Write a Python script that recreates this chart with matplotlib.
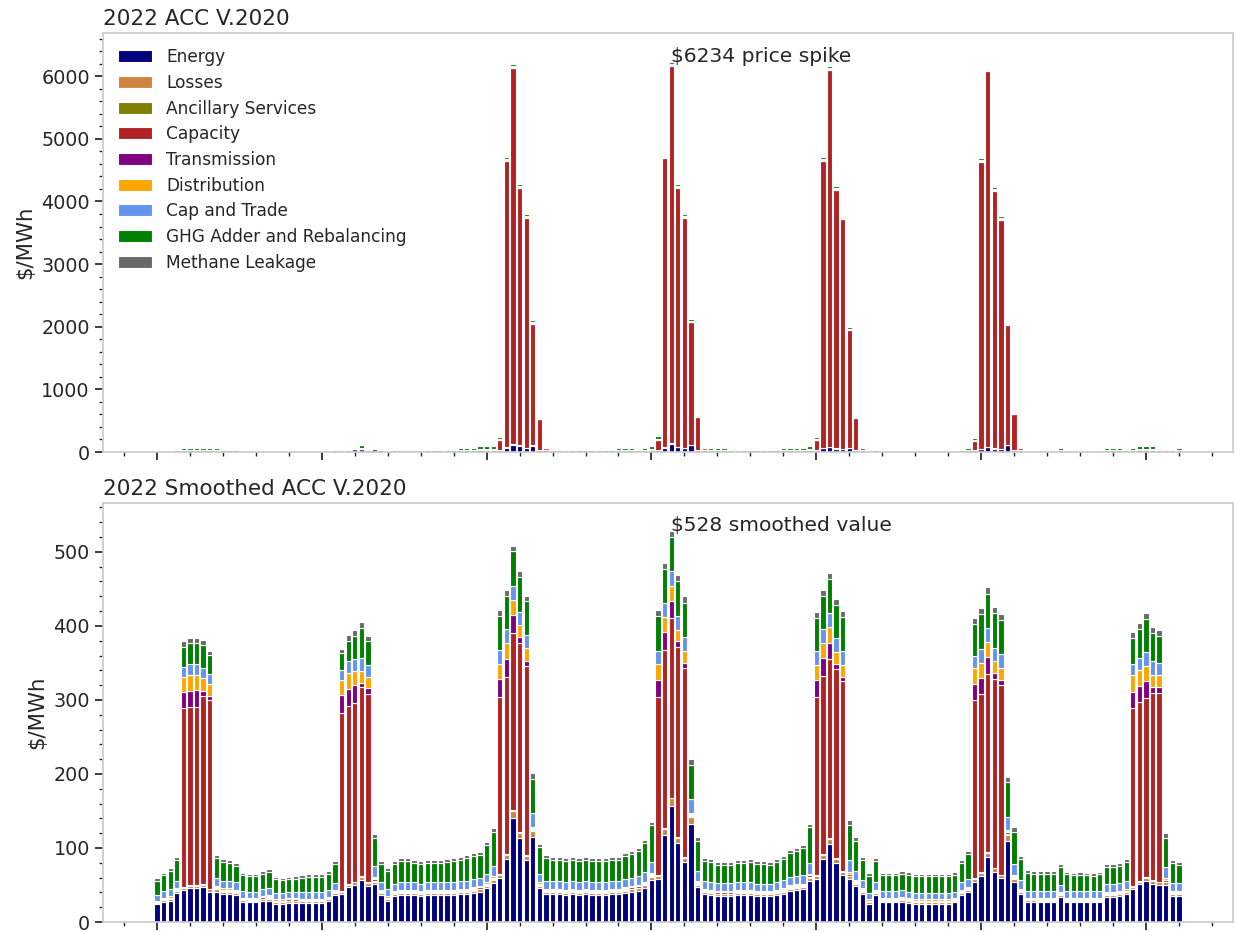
import numpy as np
import matplotlib
matplotlib.use("Agg")
import matplotlib.pyplot as plt
from matplotlib.ticker import MultipleLocator

plt.rcParams['font.family'] = ['DejaVu Sans']

# ---------------- data ----------------
series_names = ["Energy", "Losses", "Ancillary Services", "Capacity", "Transmission",
                "Distribution", "Cap and Trade", "GHG Adder and Rebalancing", "Methane Leakage"]
series_colors = ["navy", "peru", "olive", "firebrick", "purple",
                 "orange", "cornflowerblue", "green", "dimgray"]

# ---- Top panel: 2022 ACC V.2020 (raw hourly) ----
top_energy = [0, 0, 0, 28, 30, 30, 30, 30, 30, 30,
              28, 28, 28, 0, 0, 0, 0, 0, 0, 0,
              0, 0, 0, 0, 0, 0, 0, 28, 28, 28,
              50, 50, 28, 50, 28, 0, 28, 28, 28, 28,
              28, 28, 28, 28, 28, 28, 30, 30, 30, 40,
              40, 40, 35, 70, 120, 100, 65, 100, 30, 28,
              28, 28, 28, 28, 28, 28, 28, 28, 28, 28,
              30, 30, 30, 28, 30, 40, 35, 70, 130, 80,
              65, 110, 30, 25, 30, 30, 30, 28, 28, 28,
              28, 28, 28, 28, 28, 30, 30, 30, 30, 40,
              35, 60, 75, 55, 45, 60, 30, 28, 0, 28,
              0, 0, 0, 0, 0, 0, 0, 0, 0, 0,
              0, 0, 28, 30, 35, 45, 75, 55, 45, 110,
              30, 28, 0, 0, 0, 0, 0, 30, 0, 0,
              0, 0, 0, 0, 30, 30, 30, 28, 30, 40,
              40, 40, 28, 28, 28, 30]
top_losses = [0, 0, 0, 2, 2, 2, 2, 2, 2, 2,
              2, 2, 2, 0, 0, 0, 0, 0, 0, 0,
              0, 0, 0, 0, 0, 0, 0, 2, 2, 2,
              3, 3, 2, 3, 2, 0, 2, 2, 2, 2,
              2, 2, 2, 2, 2, 2, 2, 2, 2, 3,
              3, 3, 2, 5, 8, 7, 4, 7, 2, 2,
              2, 2, 2, 2, 2, 2, 2, 2, 2, 2,
              2, 2, 2, 2, 2, 3, 2, 5, 9, 6,
              4, 8, 2, 2, 2, 2, 2, 2, 2, 2,
              2, 2, 2, 2, 2, 2, 2, 2, 2, 3,
              2, 4, 5, 4, 3, 4, 2, 2, 0, 2,
              0, 0, 0, 0, 0, 0, 0, 0, 0, 0,
              0, 0, 2, 2, 2, 3, 5, 4, 3, 8,
              2, 2, 0, 0, 0, 0, 0, 2, 0, 0,
              0, 0, 0, 0, 2, 2, 2, 2, 2, 3,
              3, 3, 2, 2, 2, 2]
top_ancillary = [0, 0, 0, 1, 1, 1, 1, 1, 1, 1,
                 1, 1, 1, 0, 0, 0, 0, 0, 0, 0,
                 0, 0, 0, 0, 0, 0, 0, 1, 1, 1,
                 1, 1, 1, 1, 1, 0, 1, 1, 1, 1,
                 1, 1, 1, 1, 1, 1, 1, 1, 1, 1,
                 1, 1, 1, 1, 1, 1, 1, 1, 1, 1,
                 1, 1, 1, 1, 1, 1, 1, 1, 1, 1,
                 1, 1, 1, 1, 1, 1, 1, 1, 1, 1,
                 1, 1, 1, 1, 1, 1, 1, 1, 1, 1,
                 1, 1, 1, 1, 1, 1, 1, 1, 1, 1,
                 1, 1, 1, 1, 1, 1, 1, 1, 0, 1,
                 0, 0, 0, 0, 0, 0, 0, 0, 0, 0,
                 0, 0, 1, 1, 1, 1, 1, 1, 1, 1,
                 1, 1, 0, 0, 0, 0, 0, 1, 0, 0,
                 0, 0, 0, 0, 1, 1, 1, 1, 1, 1,
                 1, 1, 1, 1, 1, 1]
top_capacity = [0, 0, 0, 0, 0, 0, 0, 0, 0, 0,
                0, 0, 0, 0, 0, 0, 0, 0, 0, 0,
                0, 0, 0, 0, 0, 0, 0, 0, 0, 0,
                0, 0, 0, 0, 0, 0, 0, 0, 0, 0,
                0, 0, 0, 0, 0, 0, 0, 0, 0, 0,
                0, 0, 150, 4565, 6006, 4108, 3667, 1942, 490, 35,
                0, 0, 0, 0, 0, 0, 0, 0, 0, 0,
                0, 0, 0, 0, 0, 0, 160, 4613, 6016, 4129,
                3667, 1951, 530, 30, 0, 0, 0, 0, 0, 0,
                0, 0, 0, 0, 0, 0, 0, 0, 0, 0,
                150, 4576, 6017, 4124, 3667, 1885, 510, 40, 0, 0,
                0, 0, 0, 0, 0, 0, 0, 0, 0, 0,
                0, 0, 0, 0, 140, 4581, 6001, 4108, 3656, 1911,
                580, 40, 0, 0, 0, 0, 0, 0, 0, 0,
                0, 0, 0, 0, 0, 0, 0, 0, 0, 0,
                0, 0, 0, 0, 0, 0]
top_transmission = [0, 0, 0, 0, 0, 0, 0, 0, 0, 0,
                    0, 0, 0, 0, 0, 0, 0, 0, 0, 0,
                    0, 0, 0, 0, 0, 0, 0, 0, 0, 0,
                    0, 0, 0, 0, 0, 0, 0, 0, 0, 0,
                    0, 0, 0, 0, 0, 0, 0, 0, 0, 0,
                    0, 0, 0, 0, 0, 0, 0, 0, 0, 0,
                    0, 0, 0, 0, 0, 0, 0, 0, 0, 0,
                    0, 0, 0, 0, 0, 0, 0, 0, 0, 0,
                    0, 0, 0, 0, 0, 0, 0, 0, 0, 0,
                    0, 0, 0, 0, 0, 0, 0, 0, 0, 0,
                    0, 0, 0, 0, 0, 0, 0, 0, 0, 0,
                    0, 0, 0, 0, 0, 0, 0, 0, 0, 0,
                    0, 0, 0, 0, 0, 0, 0, 0, 0, 0,
                    0, 0, 0, 0, 0, 0, 0, 0, 0, 0,
                    0, 0, 0, 0, 0, 0, 0, 0, 0, 0,
                    0, 0, 0, 0, 0, 0]
top_distribution = [0, 0, 0, 0, 0, 0, 0, 0, 0, 0,
                    0, 0, 0, 0, 0, 0, 0, 0, 0, 0,
                    0, 0, 0, 0, 0, 0, 0, 0, 0, 0,
                    0, 0, 0, 0, 0, 0, 0, 0, 0, 0,
                    0, 0, 0, 0, 0, 0, 0, 0, 0, 0,
                    0, 0, 5, 15, 20, 15, 15, 10, 5, 0,
                    0, 0, 0, 0, 0, 0, 0, 0, 0, 0,
                    0, 0, 0, 0, 0, 0, 5, 15, 20, 15,
                    15, 10, 5, 0, 0, 0, 0, 0, 0, 0,
                    0, 0, 0, 0, 0, 0, 0, 0, 0, 0,
                    5, 15, 20, 15, 15, 10, 5, 0, 0, 0,
                    0, 0, 0, 0, 0, 0, 0, 0, 0, 0,
                    0, 0, 0, 0, 5, 15, 15, 15, 15, 10,
                    5, 0, 0, 0, 0, 0, 0, 0, 0, 0,
                    0, 0, 0, 0, 0, 0, 0, 0, 0, 0,
                    0, 0, 0, 0, 0, 0]
top_cap_trade = [0, 0, 0, 5, 6, 6, 6, 6, 6, 6,
                 5, 5, 5, 0, 0, 0, 0, 0, 0, 0,
                 0, 0, 0, 0, 0, 0, 0, 5, 5, 5,
                 6, 8, 5, 6, 5, 0, 5, 5, 5, 5,
                 5, 5, 5, 5, 5, 5, 6, 6, 6, 8,
                 8, 8, 8, 15, 15, 15, 14, 12, 8, 5,
                 5, 5, 5, 5, 5, 5, 5, 5, 5, 5,
                 6, 6, 6, 5, 6, 8, 8, 15, 18, 15,
                 14, 14, 8, 5, 6, 6, 6, 5, 5, 5,
                 5, 5, 5, 5, 5, 6, 6, 6, 6, 8,
                 8, 15, 15, 14, 14, 12, 8, 5, 0, 5,
                 0, 0, 0, 0, 0, 0, 0, 0, 0, 0,
                 0, 0, 5, 6, 8, 15, 14, 14, 14, 14,
                 8, 5, 0, 0, 0, 0, 0, 6, 0, 0,
                 0, 0, 0, 0, 6, 6, 6, 5, 6, 8,
                 8, 8, 5, 5, 5, 6]
top_ghg = [0, 0, 0, 12, 28, 28, 28, 28, 28, 28,
           12, 12, 12, 0, 0, 0, 0, 0, 0, 0,
           0, 0, 0, 0, 0, 0, 0, 12, 12, 12,
           28, 45, 12, 12, 12, 0, 12, 12, 12, 12,
           12, 12, 12, 12, 12, 12, 28, 28, 28, 45,
           45, 45, 45, 35, 30, 30, 27, 30, 25, 10,
           12, 12, 12, 12, 12, 12, 12, 12, 12, 12,
           28, 28, 28, 12, 28, 45, 40, 30, 36, 30,
           30, 30, 20, 8, 28, 28, 28, 12, 12, 12,
           12, 12, 12, 12, 12, 28, 28, 28, 28, 45,
           45, 35, 30, 30, 30, 25, 20, 8, 0, 12,
           0, 0, 0, 0, 0, 0, 0, 0, 0, 0,
           0, 0, 12, 28, 40, 35, 20, 30, 30, 25,
           20, 8, 0, 0, 0, 0, 0, 28, 0, 0,
           0, 0, 0, 0, 28, 28, 28, 12, 28, 45,
           45, 45, 12, 12, 12, 28]
top_methane = [0, 0, 0, 2, 2, 2, 2, 2, 2, 2,
               2, 2, 2, 0, 0, 0, 0, 0, 0, 0,
               0, 0, 0, 0, 0, 0, 0, 2, 2, 2,
               2, 3, 2, 2, 2, 0, 2, 2, 2, 2,
               2, 2, 2, 2, 2, 2, 2, 2, 2, 3,
               3, 3, 4, 4, 4, 4, 3, 3, 2, 2,
               2, 2, 2, 2, 2, 2, 2, 2, 2, 2,
               2, 2, 2, 2, 2, 3, 4, 4, 4, 4,
               4, 3, 2, 2, 2, 2, 2, 2, 2, 2,
               2, 2, 2, 2, 2, 2, 2, 2, 2, 3,
               4, 4, 4, 4, 4, 3, 2, 2, 0, 2,
               0, 0, 0, 0, 0, 0, 0, 0, 0, 0,
               0, 0, 2, 2, 4, 4, 4, 4, 4, 3,
               2, 2, 0, 0, 0, 0, 0, 2, 0, 0,
               0, 0, 0, 0, 2, 2, 2, 2, 2, 3,
               3, 3, 2, 2, 2, 2]

# ---- Bottom panel: 2022 Smoothed ACC V.2020 ----
sm_energy = [24, 27.5, 29, 39, 43, 45.5, 45.5, 47.5, 41, 41,
             38.5, 38.5, 36.5, 27.5, 26.5, 26.5, 28.5, 29, 25, 25,
             26, 26, 26, 26, 26, 26, 28.5, 36.5, 38.5, 47,
             50, 57, 49, 51, 36.5, 29, 35, 36.5, 36.5, 36.5,
             35, 36.5, 36.5, 36.5, 36.5, 36.5, 38, 38, 39.5, 41,
             45.5, 53, 60, 84.5, 141, 113, 84, 115, 45.5, 38.5,
             38, 38, 36.5, 38, 36.5, 38, 36.5, 36.5, 36.5, 38,
             38, 39.5, 41, 42.5, 46.5, 57, 58, 117.5, 157, 107,
             81.5, 133, 47.5, 38, 36.5, 35, 35, 35, 36.5, 36.5,
             36.5, 35, 35, 35, 36.5, 38.5, 42, 43, 44, 56,
             58, 84.5, 105.5, 80, 63.5, 57.5, 48.5, 38.5, 25, 36.5,
             26.5, 26.5, 26.5, 27.5, 26, 25, 25, 25, 25, 25,
             25, 26.5, 36.5, 40, 54.5, 62, 87.5, 68, 59, 110,
             54.5, 38, 27.5, 27.5, 26.5, 26.5, 26.5, 34, 26.5, 26.5,
             26.5, 26.5, 26.5, 26.5, 34, 34, 35.5, 37.5, 44, 51,
             56, 52, 50, 50, 35.5, 35.5]
sm_losses = [1.5, 2, 2, 2.5, 3, 3, 3, 3, 3, 3,
             2.5, 2.5, 2.5, 2, 2, 2, 2, 2, 2, 2,
             2, 2, 2, 2, 2, 2, 2, 2.5, 2.5, 3,
             3.5, 4, 3.5, 3.5, 2.5, 2, 2.5, 2.5, 2.5, 2.5,
             2.5, 2.5, 2.5, 2.5, 2.5, 2.5, 2.5, 2.5, 2.5, 3,
             3, 3.5, 3.5, 6, 9, 7.5, 5.5, 8, 3, 2.5,
             2.5, 2.5, 2.5, 2.5, 2.5, 2.5, 2.5, 2.5, 2.5, 2.5,
             2.5, 2.5, 3, 3, 3, 4, 4, 8, 10, 7,
             5.5, 9, 3, 2.5, 2.5, 2.5, 2.5, 2.5, 2.5, 2.5,
             2.5, 2.5, 2.5, 2.5, 2.5, 2.5, 3, 3, 3, 4,
             4, 6, 7, 5.5, 4.5, 4, 3.5, 2.5, 2, 2.5,
             2, 2, 2, 2, 2, 2, 2, 2, 2, 2,
             2, 2, 2.5, 3, 3.5, 4, 6, 4.5, 4, 8,
             4, 2.5, 2, 2, 2, 2, 2, 2.5, 2, 2,
             2, 2, 2, 2, 2.5, 2.5, 2.5, 2.5, 3, 3.5,
             4, 3.5, 3.5, 3.5, 2.5, 2.5]
sm_ancillary = [1, 1, 1, 1, 1, 1, 1, 1, 1, 1,
                1, 1, 1, 1, 1, 1, 1, 1, 1, 1,
                1, 1, 1, 1, 1, 1, 1, 1, 1, 1,
                1, 1, 1, 1, 1, 1, 1, 1, 1, 1,
                1, 1, 1, 1, 1, 1, 1, 1, 1, 1,
                1, 1, 1, 1, 1, 1, 1, 1, 1, 1,
                1, 1, 1, 1, 1, 1, 1, 1, 1, 1,
                1, 1, 1, 1, 1, 1, 1, 1, 1, 1,
                1, 1, 1, 1, 1, 1, 1, 1, 1, 1,
                1, 1, 1, 1, 1, 1, 1, 1, 1, 1,
                1, 1, 1, 1, 1, 1, 1, 1, 1, 1,
                1, 1, 1, 1, 1, 1, 1, 1, 1, 1,
                1, 1, 1, 1, 1, 1, 1, 1, 1, 1,
                1, 1, 1, 1, 1, 1, 1, 1, 1, 1,
                1, 1, 1, 1, 1, 1, 1, 1, 1, 1,
                1, 1, 1, 1, 1, 1]
sm_capacity = [0.5, 0.5, 0.5, 1, 242, 240.5, 240.5, 253.5, 255, 1.5,
               1, 1, 1, 0.5, 0.5, 0.5, 2, 2, 0.5, 0.5,
               1.5, 1.5, 0.5, 0.5, 0.5, 0.5, 0.5, 1, 241, 241,
               241.5, 255, 254.5, 3, 1, 0.5, 1, 1, 1, 1,
               1, 1, 1, 1, 1, 1, 1.5, 1.5, 2, 2,
               1.5, 2, 240, 240, 240, 256, 255.5, 2, 1.5, 1,
               1, 1, 1, 1, 1, 1, 1, 1, 1, 1,
               1, 2, 2, 1.5, 1.5, 2, 241.5, 241, 243, 257,
               255, 2, 1.5, 1.5, 1, 1.5, 1.5, 1.5, 1, 1,
               1, 1, 1, 1, 1, 1.5, 1.5, 2, 2, 2,
               240.5, 241, 241.5, 255, 256, 2, 1.5, 1.5, 0.5, 1,
               1.5, 1.5, 1.5, 1.5, 1, 0.5, 0.5, 0.5, 0.5, 0.5,
               0.5, 0.5, 1, 1.5, 240.5, 241, 240.5, 254.5, 256, 3,
               1.5, 1.5, 0.5, 0.5, 1.5, 1.5, 1.5, 1, 1, 1,
               1, 1, 1.5, 1, 1, 1, 1, 1, 240.5, 241.5,
               241, 253.5, 254.5, 2, 1, 1]
sm_transmission = [0.5, 0.5, 0.5, 0.5, 22, 22.5, 23.5, 7, 5, 0.5,
                   0.5, 0.5, 0.5, 0.5, 0.5, 0.5, 0.5, 0.5, 0.5, 0.5,
                   0.5, 0.5, 0.5, 0.5, 0.5, 0.5, 0.5, 0.5, 24, 23,
                   24, 6, 8, 0.5, 0.5, 0.5, 0.5, 0.5, 0.5, 0.5,
                   0.5, 0.5, 0.5, 0.5, 0.5, 0.5, 0.5, 0.5, 0.5, 0.5,
                   0.5, 0.5, 23.5, 23.5, 24, 7, 7, 0.5, 0.5, 0.5,
                   0.5, 0.5, 0.5, 0.5, 0.5, 0.5, 0.5, 0.5, 0.5, 0.5,
                   0.5, 0.5, 0.5, 0.5, 0.5, 0.5, 22.5, 24, 23, 7,
                   6.5, 0.5, 0.5, 0.5, 0.5, 0.5, 0.5, 0.5, 0.5, 0.5,
                   0.5, 0.5, 0.5, 0.5, 0.5, 0.5, 0.5, 0.5, 0.5, 0.5,
                   23.5, 23.5, 22.5, 7, 6.5, 0.5, 0.5, 0.5, 0.5, 0.5,
                   0.5, 0.5, 0.5, 0.5, 0.5, 0.5, 0.5, 0.5, 0.5, 0.5,
                   0.5, 0.5, 0.5, 0.5, 22.5, 22, 22.5, 8, 7, 0.5,
                   0.5, 0.5, 0.5, 0.5, 0.5, 0.5, 0.5, 0.5, 0.5, 0.5,
                   0.5, 0.5, 0.5, 0.5, 0.5, 0.5, 0.5, 0.5, 22.5, 22,
                   23, 8, 8, 0.5, 0.5, 0.5]
sm_distribution = [1.5, 1.5, 1.5, 1.5, 20.5, 21.5, 19.5, 17, 16.5, 2,
                   2, 2, 2, 1.5, 1.5, 1.5, 1.5, 1.5, 1.5, 1.5,
                   1.5, 1.5, 1.5, 1.5, 1.5, 1.5, 1.5, 1.5, 20, 21,
                   19.5, 16.5, 15.5, 2, 1.5, 1.5, 1.5, 1.5, 1.5, 1.5,
                   1.5, 1.5, 1.5, 1.5, 1.5, 1.5, 1.5, 1.5, 1.5, 1.5,
                   2, 2, 20, 21.5, 20, 16.5, 17, 2, 2, 1.5,
                   1.5, 1.5, 1.5, 1.5, 1.5, 1.5, 1.5, 1.5, 1.5, 1.5,
                   1.5, 1.5, 1.5, 1.5, 2, 2, 21.5, 20, 20.5, 16,
                   16.5, 2, 2, 1.5, 1.5, 1.5, 1.5, 1.5, 1.5, 1.5,
                   1.5, 1.5, 1.5, 1.5, 1.5, 1.5, 1.5, 1.5, 1.5, 2,
                   20, 20.5, 21.5, 16.5, 15.5, 2, 2, 1.5, 1.5, 1.5,
                   1.5, 1.5, 1.5, 1.5, 1.5, 1.5, 1.5, 1.5, 1.5, 1.5,
                   1.5, 1.5, 1.5, 1.5, 21, 20, 21, 16, 16.5, 2,
                   2, 1.5, 1.5, 1.5, 1.5, 1.5, 1.5, 1.5, 1.5, 1.5,
                   1.5, 1.5, 1.5, 1.5, 1.5, 1.5, 1.5, 1.5, 22, 21.5,
                   21.5, 16, 16, 2, 1.5, 1.5]
sm_cap_trade = [8, 9, 9.5, 10, 13.5, 14.5, 15, 14.5, 13, 11,
                10.5, 10.5, 10, 9, 9, 9, 9, 9.5, 8.5, 8.5,
                8.5, 8.5, 8.5, 8.5, 8.5, 8.5, 9, 10, 13.5, 16,
                15.5, 17.5, 15.5, 14.5, 10.5, 9.5, 10, 10.5, 10.5, 10.5,
                10.5, 10.5, 10.5, 10.5, 10.5, 10.5, 10.5, 10.5, 11, 11,
                12, 14, 19.5, 19.5, 19.5, 18, 18, 18.5, 12, 10.5,
                10.5, 10.5, 10.5, 10.5, 10.5, 10.5, 10.5, 10.5, 10.5, 10.5,
                10.5, 11, 11, 11.5, 12.5, 15, 18, 19, 19, 19,
                19.5, 18.5, 14, 11, 10.5, 10.5, 10.5, 10.5, 10.5, 10.5,
                10.5, 10.5, 10.5, 10.5, 10.5, 11, 11.5, 11.5, 12, 14.5,
                19.5, 19, 19, 18, 19.5, 17, 12, 11, 8.5, 10.5,
                9, 9, 9, 9, 9, 9, 9, 9, 9, 9,
                9, 9, 10.5, 11, 17, 19, 19, 18, 18.5, 17.5,
                15, 12, 9.5, 9.5, 9.5, 9.5, 9.5, 10, 9.5, 9.5,
                9.5, 9.5, 9.5, 9.5, 10.5, 10.5, 10.5, 11, 15, 16.5,
                18, 18, 16.5, 16, 11, 11]
sm_ghg = [18.5, 21, 25, 28.5, 27, 29, 28.5, 30.5, 26.5, 26,
          25, 24, 22.5, 21, 20.5, 20.5, 21, 22, 18.5, 17.5,
          16.5, 17.5, 20, 21, 21, 21, 22.5, 26, 23.5, 28,
          31.5, 40.5, 32, 37.5, 25.5, 25, 27.5, 28.5, 29.5, 26.5,
          27, 26.5, 26.5, 26.5, 27.5, 28.5, 28, 31, 31.5, 30,
          38.5, 45.5, 46, 44.5, 46, 47, 45, 46, 36, 31,
          28.5, 29, 28.5, 28.5, 28.5, 28.5, 29.5, 29.5, 29.5, 29,
          29, 31, 32, 34, 39.5, 49, 47, 46, 46, 47,
          46, 46, 40, 27, 27.5, 24, 25, 25, 26.5, 26.5,
          27, 26.5, 26.5, 25.5, 27, 28.5, 32, 33, 35.5, 48,
          44.5, 45, 45, 45, 45.5, 47, 40, 27.5, 23.5, 28.5,
          21, 21, 21, 22.5, 22.5, 22, 22, 22, 22, 22,
          22, 22.5, 26.5, 33, 42.5, 47, 46, 47, 46, 46.5,
          43.5, 28, 24, 23, 23, 23, 23, 23.5, 22.5, 21,
          22, 21, 20, 22.5, 23, 23, 23.5, 25.5, 36, 38.5,
          44.5, 39, 37.5, 38.5, 27, 24.5]
sm_methane = [3.5, 3.5, 3.5, 4, 8, 5.5, 6.5, 7, 5, 4.5,
              4, 4, 4, 3.5, 3.5, 3.5, 3.5, 3.5, 3.5, 3.5,
              3.5, 3.5, 3.5, 3.5, 3.5, 3.5, 3.5, 4, 5, 8,
              8, 8, 7.5, 6, 4, 3.5, 4, 4, 4, 4,
              4, 4, 4, 4, 4, 4, 4, 4, 4, 4,
              4.5, 5, 8, 8, 8, 8, 8, 8, 4.5, 4,
              4, 4, 4, 4, 4, 4, 4, 4, 4, 4,
              4, 4, 4, 4, 4.5, 5, 8, 8, 8.5, 8,
              8.5, 8, 5.5, 4, 4, 4, 4, 4, 4, 4,
              4, 4, 4, 4, 4, 4, 4, 4, 4.5, 5,
              8, 8, 8, 8.5, 8, 7, 6, 4, 3.5, 4,
              3.5, 3.5, 3.5, 3.5, 3.5, 3.5, 3.5, 3.5, 3.5, 3.5,
              3.5, 3.5, 4, 4, 8, 8, 8.5, 8, 8, 8,
              6, 4, 3.5, 3.5, 3.5, 3.5, 3.5, 4, 3.5, 3.5,
              3.5, 3.5, 3.5, 3.5, 4, 4, 4, 4, 8, 8,
              8, 8, 7, 6.5, 4, 4]

top_title = "2022 ACC V.2020"
bottom_title = "2022 Smoothed ACC V.2020"
top_note = "$6234 price spike"
bottom_note = "$528 smoothed value"
top_note_value = 6234
bottom_note_value = 528
note_hour = 78

top_series = [top_energy, top_losses, top_ancillary, top_capacity, top_transmission,
              top_distribution, top_cap_trade, top_ghg, top_methane]
sm_series = [sm_energy, sm_losses, sm_ancillary, sm_capacity, sm_transmission,
             sm_distribution, sm_cap_trade, sm_ghg, sm_methane]

# ---------------- drawing ----------------
TXT = "#262626"
fig = plt.figure(figsize=(12.36, 9.32), dpi=100)
ax1 = fig.add_axes([0.0833, 0.515, 0.9142, 0.4496])
ax2 = fig.add_axes([0.0833, 0.0107, 0.9142, 0.4496])


def draw(ax, series):
    x = np.arange(len(series[0]))
    bottom = np.zeros(len(x))
    for name, vals, col in zip(series_names, series, series_colors):
        v = np.asarray(vals, dtype=float)
        ax.bar(x, v, width=0.8, bottom=bottom, color=col, edgecolor="white",
               linewidth=0.8, label=name)
        bottom += v


def style(ax, title, ymajor, yminor, ytop):
    for s in ax.spines.values():
        s.set_color("#cccccc")
        s.set_linewidth(1.25)
    ax.set_ylim(0, ytop)
    ax.xaxis.set_major_locator(MultipleLocator(25))
    ax.xaxis.set_minor_locator(MultipleLocator(5))
    ax.yaxis.set_major_locator(MultipleLocator(ymajor))
    ax.yaxis.set_minor_locator(MultipleLocator(yminor))
    ax.tick_params(axis="both", which="major", length=6, width=1.25, color=TXT,
                   labelsize=13.75, labelcolor=TXT, direction="out")
    ax.tick_params(axis="both", which="minor", length=3, width=1, color=TXT, direction="out")
    ax.tick_params(axis="x", which="both", labelbottom=False)
    ax.set_ylabel("$/MWh", fontsize=15.3, color=TXT)
    ax.set_title(title, loc="left", fontsize=15.5, color=TXT)


draw(ax1, top_series)
draw(ax2, sm_series)
style(ax1, top_title, 1000, 200, 6690)
style(ax2, bottom_title, 100, 20, 566)

ax1.text(note_hour, top_note_value, top_note, ha="left", va="baseline", fontsize=14.6, color=TXT)
ax2.text(note_hour, bottom_note_value, bottom_note, ha="left", va="baseline", fontsize=14.6, color=TXT)

leg = ax1.legend(loc="upper left", frameon=False, fontsize=12.25, labelspacing=0.45)
for t in leg.get_texts():
    t.set_color(TXT)

fig.savefig("out.png", dpi=100)
